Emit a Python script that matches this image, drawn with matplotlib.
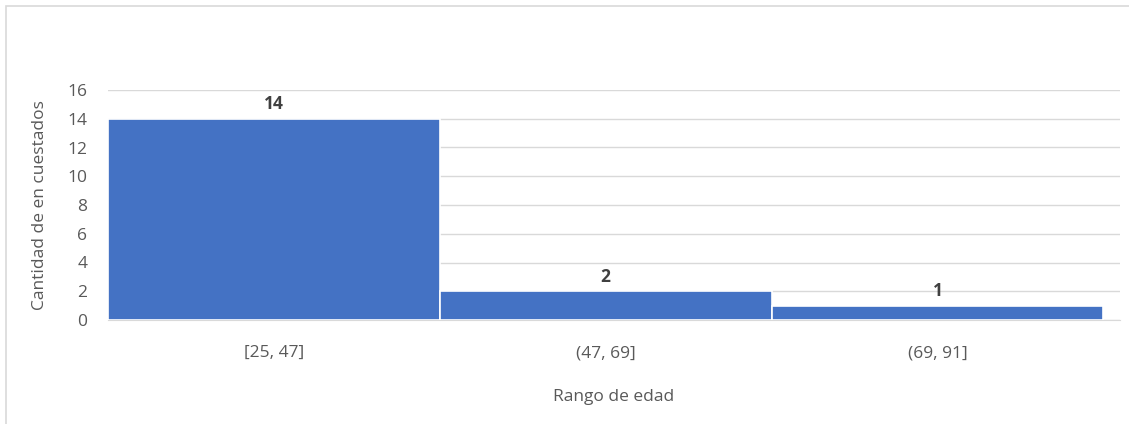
import matplotlib.pyplot as plt
from matplotlib.patches import Rectangle

categories = ["[25, 47]", "(47, 69]", "(69, 91]"]
counts = [14, 2, 1]
y_ticks = [0, 2, 4, 6, 8, 10, 12, 14, 16]

plt.rcParams['font.family'] = ['Open Sans', 'DejaVu Sans']

fig = plt.figure(figsize=(11.29, 4.24), dpi=100)
ax = fig.add_axes([108 / 1129, 1 - 320 / 424, 1012 / 1129, 230 / 424])

# chart frame (light grey, cropped on right and bottom)
fig.patches.append(Rectangle((6 / 1129, -0.1), 1.2, 1 - 6 / 424 + 0.1,
                             transform=fig.transFigure, fill=False,
                             edgecolor='#D9D9D9', linewidth=1.2))

x = range(len(categories))
bars = ax.bar(x, counts, width=1.0, color='#4472C4', edgecolor='white',
              linewidth=1.2, zorder=3)

for xi, v in zip(x, counts):
    ax.annotate(str(v), (xi, v), xytext=(0, 4), textcoords='offset points',
                ha='center', va='bottom', fontsize=12.5, fontweight='bold',
                color='#404040')

ax.set_xlim(-0.5, 2.55)
ax.set_ylim(0, 16)
ax.set_yticks(y_ticks)
ax.set_xticks(list(x))
ax.set_xticklabels(categories)
ax.yaxis.grid(True, color='#D9D9D9', linewidth=1, zorder=0)
ax.tick_params(axis='both', length=0, labelsize=12.5, colors='#595959')
ax.tick_params(axis='x', pad=18)
ax.tick_params(axis='y', pad=15)
for s in ['top', 'right', 'left']:
    ax.spines[s].set_visible(False)
ax.spines['bottom'].set_color('#D9D9D9')

ax.set_xlabel('Rango de edad', fontsize=12.5, color='#595959', labelpad=20)
ax.set_ylabel('Cantidad de en cuestados', fontsize=12.5, color='#595959',
              labelpad=14)

fig.savefig('out.png', dpi=100)
